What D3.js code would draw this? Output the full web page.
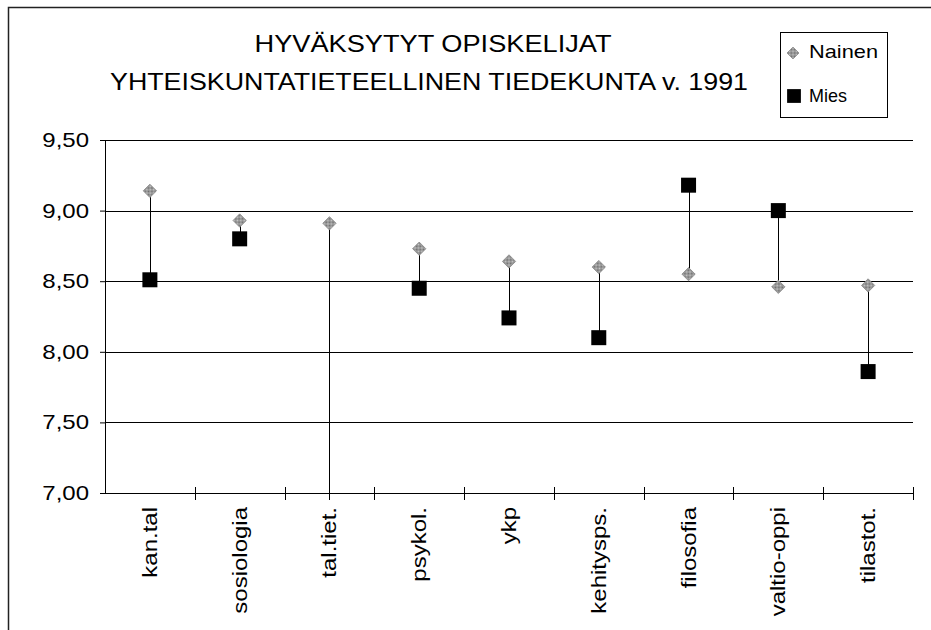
<!DOCTYPE html>
<html>
<head>
<meta charset="utf-8">
<script src="https://cdn.jsdelivr.net/npm/d3@7"></script>
<style>
  html, body { margin: 0; padding: 0; background: #fff; }
  svg { display: block; }
  text { font-family: "Liberation Sans", Arial, sans-serif; fill: #000; }
</style>
</head>
<body>
<svg id="chart" width="931" height="630"></svg>
<script>
const titleLines = ["HYVÄKSYTYT OPISKELIJAT", "YHTEISKUNTATIETEELLINEN TIEDEKUNTA v. 1991"];
const categories = ["kan.tal", "sosiologia", "tal.tiet.", "psykol.", "ykp", "kehitysps.", "filosofia", "valtio-oppi", "tilastot."];
const nainen = [9.14, 8.93, 8.91, 8.73, 8.64, 8.60, 8.55, 8.46, 8.47];
const mies   = [8.51, 8.80, 0,    8.45, 8.24, 8.10, 9.18, 9.00, 7.86];
const yTicks = [7.00, 7.50, 8.00, 8.50, 9.00, 9.50];
const seriesNames = ["Nainen", "Mies"];

const svg = d3.select("#chart");

// dithered grey pattern for the diamonds
const defs = svg.append("defs");
const pat = defs.append("pattern").attr("id", "dither")
  .attr("width", 2).attr("height", 2).attr("patternUnits", "userSpaceOnUse");
pat.append("rect").attr("width", 2).attr("height", 2).attr("fill", "#c8c8c8");
pat.append("rect").attr("width", 1).attr("height", 1).attr("fill", "#6a6a6a");
pat.append("rect").attr("x", 1).attr("y", 1).attr("width", 1).attr("height", 1).attr("fill", "#6a6a6a");

const plot = { left: 105, right: 913, top: 140, bottom: 493 };

defs.append("clipPath").attr("id", "plotclip").append("rect")
  .attr("x", plot.left).attr("y", plot.top - 20)
  .attr("width", plot.right - plot.left).attr("height", plot.bottom + 7 - (plot.top - 20));

// outer frame (top and left edges visible)
svg.append("path").attr("d", "M8.5,640 L8.5,7.5 L940,7.5")
  .attr("fill", "none").attr("stroke", "#222").attr("stroke-width", 1.5);

const x = d3.scaleBand().domain(categories).range([plot.left, plot.right]);
const y = d3.scaleLinear().domain([7, 9.5]).range([plot.bottom, plot.top]);

// title
svg.append("g").selectAll("text").data(titleLines).join("text")
  .attr("x", (d, i) => i === 0 ? 433 : 429)
  .attr("y", (d, i) => i === 0 ? 52 : 90)
  .attr("text-anchor", "middle")
  .attr("font-size", 24)
  .attr("textLength", (d, i) => i === 0 ? 357 : 638)
  .attr("lengthAdjust", "spacingAndGlyphs")
  .text(d => d);

// gridlines
svg.append("g").selectAll("line").data(yTicks).join("line")
  .attr("x1", plot.left).attr("x2", plot.right)
  .attr("y1", d => Math.round(y(d)) + 0.5).attr("y2", d => Math.round(y(d)) + 0.5)
  .attr("stroke", "#000").attr("stroke-width", 1);

// y axis
const yAxis = svg.append("g").attr("transform", `translate(${plot.left},0)`)
  .call(d3.axisLeft(y).tickValues(yTicks).tickSize(5).tickPadding(16)
    .tickFormat(d => d3.format(".2f")(d).replace(".", ",")));
yAxis.select(".domain").attr("stroke", "#000");
yAxis.selectAll(".tick line").attr("stroke", "#000");
yAxis.selectAll(".tick text")
  .attr("font-family", "Liberation Sans, Arial, sans-serif")
  .attr("font-size", 20)
  .attr("fill", "#000")
  .attr("x", null)
  .attr("transform", "translate(-16,0) scale(1.2,1)");

// x axis
const xAxis = svg.append("g").attr("transform", `translate(0,${plot.bottom})`)
  .call(d3.axisBottom(x).tickSize(0).tickPadding(0));
xAxis.select(".domain").attr("stroke", "#000");
xAxis.selectAll(".tick text")
  .attr("font-family", "Liberation Sans, Arial, sans-serif")
  .attr("font-size", 20)
  .attr("fill", "#000")
  .attr("y", null).attr("dy", "0.35em")
  .attr("text-anchor", "end")
  .attr("transform", "translate(0,14) rotate(-90) scale(1.2,1)");

// x tick marks at category boundaries
const bounds = categories.map(c => x(c)).concat([x(categories[categories.length - 1]) + x.bandwidth()]);
svg.append("g").selectAll("line").data(bounds.slice(1)).join("line")
  .attr("x1", d => Math.round(d) + 0.5).attr("x2", d => Math.round(d) + 0.5)
  .attr("y1", plot.bottom - 6).attr("y2", plot.bottom + 7)
  .attr("stroke", "#000");

const cx = c => x(c) + x.bandwidth() / 2;

// high-low lines + markers
const marks = svg.append("g").attr("clip-path", "url(#plotclip)");
marks.selectAll("line.hl").data(categories).join("line").attr("class", "hl")
  .attr("x1", c => Math.round(cx(c)) + 0.5).attr("x2", c => Math.round(cx(c)) + 0.5)
  .attr("y1", (c, i) => y(nainen[i])).attr("y2", (c, i) => y(mies[i]))
  .attr("stroke", "#000").attr("stroke-width", 1);

const diamond = d3.symbol(d3.symbolSquare, 88)();
const square = d3.symbol(d3.symbolSquare, 225)();

marks.selectAll("path.n").data(categories).join("path").attr("class", "n")
  .attr("d", diamond)
  .attr("transform", (c, i) => `translate(${cx(c)},${y(nainen[i])}) rotate(45)`)
  .attr("fill", "url(#dither)").attr("stroke", "#888").attr("stroke-width", 0.8);

marks.selectAll("path.m").data(categories).join("path").attr("class", "m")
  .attr("d", square)
  .attr("transform", (c, i) => `translate(${cx(c)},${y(mies[i])})`)
  .attr("fill", "#000");

// legend
const leg = svg.append("g");
leg.append("rect").attr("x", 780.5).attr("y", 32.5).attr("width", 107).attr("height", 85)
  .attr("fill", "#fff").attr("stroke", "#000").attr("stroke-width", 1);
leg.append("path").attr("d", d3.symbol(d3.symbolSquare, 70)())
  .attr("transform", "translate(793,53) rotate(45)")
  .attr("fill", "url(#dither)").attr("stroke", "#888").attr("stroke-width", 0.8);
leg.append("path").attr("d", d3.symbol(d3.symbolSquare, 190)())
  .attr("transform", "translate(794,96)")
  .attr("fill", "#000");
leg.selectAll("text").data(seriesNames).join("text")
  .attr("x", 809).attr("y", (d, i) => i === 0 ? 58 : 102)
  .attr("font-size", 19)
  .attr("textLength", (d, i) => i === 0 ? 69 : 38)
  .attr("lengthAdjust", "spacingAndGlyphs")
  .text(d => d);
</script>
</body>
</html>
